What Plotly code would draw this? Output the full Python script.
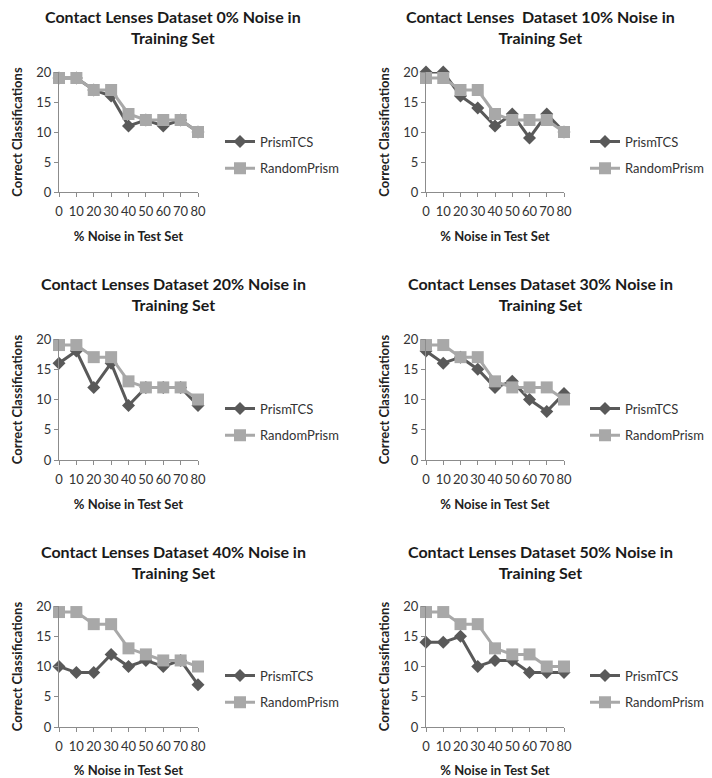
import plotly.graph_objects as go

W, H = 712, 778

noise_test = [0, 10, 20, 30, 40, 50, 60, 70, 80]
tick_labels = ["0", "10", "20", "30", "40", "50", "60", "70", "80"]

prism_tcs_0 = [19, 19, 17, 16, 11, 12, 11, 12, 10]
random_prism_0 = [19, 19, 17, 17, 13, 12, 12, 12, 10]

prism_tcs_10 = [20, 20, 16, 14, 11, 13, 9, 13, 10]
random_prism_10 = [19, 19, 17, 17, 13, 12, 12, 12, 10]

prism_tcs_20 = [16, 18, 12, 16, 9, 12, 12, 12, 9]
random_prism_20 = [19, 19, 17, 17, 13, 12, 12, 12, 10]

prism_tcs_30 = [18, 16, 17, 15, 12, 13, 10, 8, 11]
random_prism_30 = [19, 19, 17, 17, 13, 12, 12, 12, 10]

prism_tcs_40 = [10, 9, 9, 12, 10, 11, 10, 11, 7]
random_prism_40 = [19, 19, 17, 17, 13, 12, 11, 11, 10]

prism_tcs_50 = [14, 14, 15, 10, 11, 11, 9, 9, 9]
random_prism_50 = [19, 19, 17, 17, 13, 12, 12, 10, 10]

prism_series = [prism_tcs_0, prism_tcs_10, prism_tcs_20, prism_tcs_30, prism_tcs_40, prism_tcs_50]
random_series = [random_prism_0, random_prism_10, random_prism_20, random_prism_30, random_prism_40, random_prism_50]

titles = [
    "Contact Lenses Dataset 0% Noise in<br>Training Set",
    "Contact Lenses  Dataset 10% Noise in<br>Training Set",
    "Contact Lenses Dataset 20% Noise in<br>Training Set",
    "Contact Lenses Dataset 30% Noise in<br>Training Set",
    "Contact Lenses Dataset 40% Noise in<br>Training Set",
    "Contact Lenses Dataset 50% Noise in<br>Training Set",
]

# layout geometry in pixels
col_x = [(59, 198), (426, 564)]
row_y = [(72, 192), (339, 460), (606, 727)]
title_cx = [173, 540]
title_top = [5, 272, 540]
legend_x = [220, 585]
legend_cy = [155, 422, 689]

DARK = "#595959"
LIGHT = "#a8a8a8"
AXIS = "#8c8c8c"
FONT = "Lato"

def px_x(p):
    return p / W

def px_y(p):
    return 1 - p / H

fig = go.Figure()
layout = dict(
    width=W, height=H,
    margin=dict(l=0, r=0, t=0, b=0, autoexpand=False),
    paper_bgcolor="white", plot_bgcolor="white",
    font=dict(family=FONT, color="#333333"),
    annotations=[],
)

for i in range(6):
    r, c = divmod(i, 2)
    n = i + 1
    xa = "xaxis" if n == 1 else f"xaxis{n}"
    ya = "yaxis" if n == 1 else f"yaxis{n}"
    xref = "x" if n == 1 else f"x{n}"
    yref = "y" if n == 1 else f"y{n}"
    leg = "legend" if n == 1 else f"legend{n}"

    fig.add_trace(go.Scatter(
        x=noise_test, y=prism_series[i], name="PrismTCS",
        mode="lines+markers", xaxis=xref, yaxis=yref, legend=leg,
        legendgroup=f"p{n}",
        line=dict(color=DARK, width=3),
        marker=dict(symbol="diamond", size=10, color=DARK),
        cliponaxis=False,
    ))
    fig.add_trace(go.Scatter(
        x=noise_test, y=random_series[i], name="RandomPrism",
        mode="lines+markers", xaxis=xref, yaxis=yref, legend=leg,
        legendgroup=f"r{n}",
        line=dict(color=LIGHT, width=3),
        marker=dict(symbol="square", size=12, color=LIGHT),
        cliponaxis=False,
    ))

    x0, x1 = col_x[c]
    y0, y1 = row_y[r]
    layout[xa] = dict(
        domain=[px_x(x0), px_x(x1)], anchor=yref,
        range=[0, 80], tickvals=noise_test, ticktext=tick_labels,
        tickangle=0, automargin=False, ticklabelstandoff=3,
        showline=True, linecolor=AXIS, linewidth=1,
        ticks="outside", ticklen=4, tickcolor=AXIS,
        showgrid=False, zeroline=False,
        tickfont=dict(size=13, color="#333333", family=FONT),
        title=dict(text="<b>% Noise in Test Set</b>",
                   font=dict(size=13, color="#222222", family=FONT), standoff=14),
    )
    layout[ya] = dict(
        domain=[px_y(y1), px_y(y0)], anchor=xref,
        range=[0, 20], tickvals=[0, 5, 10, 15, 20], automargin=False,
        showline=True, linecolor=AXIS, linewidth=1,
        ticks="outside", ticklen=4, tickcolor=AXIS,
        showgrid=False, zeroline=False,
        tickfont=dict(size=13, color="#333333", family=FONT),
        title=dict(text="<b>Correct Classifications</b>",
                   font=dict(size=13, color="#222222", family=FONT), standoff=10),
    )
    layout[leg] = dict(
        x=px_x(legend_x[c]), y=px_y(legend_cy[r]),
        xanchor="left", yanchor="middle",
        bgcolor="rgba(0,0,0,0)", borderwidth=0,
        font=dict(size=13, color="#333333", family=FONT),
        tracegroupgap=7, itemwidth=30,
    )
    layout["annotations"].append(dict(
        text=f"<b>{titles[i]}</b>", xref="paper", yref="paper",
        x=px_x(title_cx[c]), y=px_y(title_top[r]),
        xanchor="center", yanchor="top", showarrow=False,
        font=dict(size=16, color="#1a1a1a", family=FONT),
    ))

fig.update_layout(**layout)
fig.write_html(
    "out.html",
    config={"displayModeBar": False},
    post_script="document.body.style.margin='0';document.body.style.overflow='hidden';",
)
